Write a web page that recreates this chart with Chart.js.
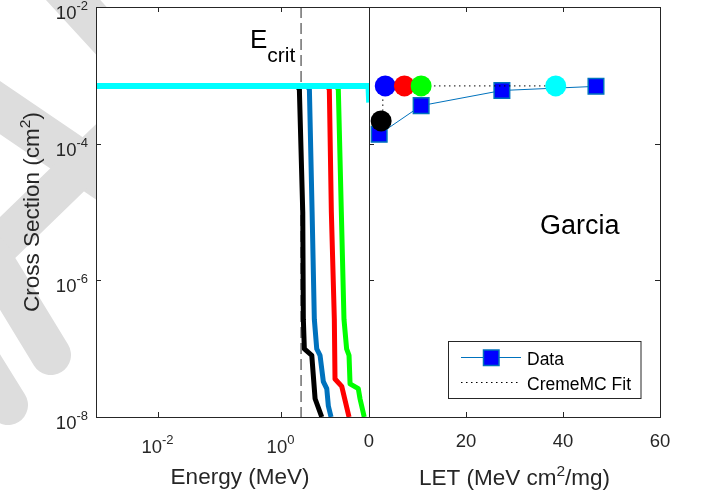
<!DOCTYPE html>
<html>
<head>
<meta charset="utf-8">
<script src="https://cdn.jsdelivr.net/npm/chart.js@4"></script>
<style>
  html, body { margin: 0; padding: 0; background: #fff; }
  #wrap { position: relative; width: 701px; height: 496px; }
  #wrap canvas { position: absolute; left: 0; top: 0; }
</style>
</head>
<body>
<div id="wrap">
  <canvas id="energyPanel" width="701" height="496"></canvas>
  <canvas id="letPanel" width="701" height="496"></canvas>
</div>
<script>
// ---- tick labels ----
const sigmaTickExps = [-8, -6, -4, -2];
const energyTickExps = [-2, 0];
const letTicks = [0, 20, 40, 60];

// ---- left panel: cross section vs. ion energy (MeV) ----
const eCrit = 2.13;
const energyBlack = [0.001, 1.85, 2.0, 2.27, 2.32, 2.41, 3.18, 3.6, 4.62];
const sigmaBlack  = [7e-4, 7e-4, 6.2e-4, 1e-5, 2.7e-7, 9.9e-8, 8e-8, 1.85e-8, 1e-8];
const energyBlue  = [0.001, 2.7, 2.91, 3.22, 3.5, 3.83, 4.33, 4.9, 5.57, 5.91, 6.54];
const sigmaBlue   = [7e-4, 7e-4, 6.2e-4, 1e-5, 2.7e-7, 9.9e-8, 8e-8, 3.3e-8, 2.6e-8, 1.45e-8, 1e-8];
const energyRed   = [0.001, 5.7, 6.13, 6.61, 7.39, 7.58, 9.75, 12.8];
const sigmaRed    = [7e-4, 7e-4, 6.2e-4, 1e-5, 2.7e-7, 3.6e-8, 2.8e-8, 1e-8];
const energyGreen = [0.001, 8.0, 8.58, 9.6, 10.6, 11.7, 12.8, 13.3, 18.1, 19.3, 22.6];
const sigmaGreen  = [7e-4, 7e-4, 6.2e-4, 1e-5, 2.7e-7, 9.9e-8, 8e-8, 3.06e-8, 2.6e-8, 1.85e-8, 1e-8];
const energyCyan  = [0.001, 26.5, 27.2];
const sigmaCyan   = [7e-4, 7e-4, 4e-4];

// ---- right panel: cross section vs. LET ----
const letData   = [2.1, 10.75, 27.4, 46.8];
const sigmaData = [1.37e-4, 3.6e-4, 6.0e-4, 6.9e-4];
const letFit    = [2.85, 2.85, 3.35, 38.5];
const sigmaFit  = [2.15e-4, 6.6e-4, 7e-4, 7e-4];
const letIons   = [2.5, 3.35, 7.3, 10.75, 38.5];
const sigmaIons = [2.15e-4, 7e-4, 7e-4, 7e-4, 7e-4];
const ionColors = ['#000000', '#0000ff', '#ff0000', '#00ff00', '#00ffff'];

const FONT = '"Liberation Sans", Arial, Helvetica, sans-serif';
const AXIS = '#262626';

const pts = (xs, ys) => xs.map((x, i) => ({ x: x, y: ys[i] }));

function drawRich(ctx, parts, x, y, align) {
  let total = 0;
  parts.forEach(p => {
    ctx.font = p.size + 'px ' + FONT;
    p.w = ctx.measureText(p.t).width;
    total += p.w;
  });
  let cx = align === 'center' ? x - total / 2 : (align === 'right' ? x - total : x);
  ctx.textAlign = 'left';
  ctx.textBaseline = 'alphabetic';
  parts.forEach(p => {
    ctx.font = p.size + 'px ' + FONT;
    ctx.fillText(p.t, cx, y + (p.dy || 0));
    cx += p.w;
  });
}
const powParts = e => [{ t: '10', size: 18.5 }, { t: String(e), size: 13, dy: -9 }];

function band(ctx, x1, y1, x2, y2, w) {
  ctx.beginPath();
  ctx.moveTo(x1, y1);
  ctx.lineTo(x2, y2);
  ctx.lineWidth = w;
  ctx.lineCap = 'round';
  ctx.stroke();
}

function frame(ctx, a) {
  ctx.save();
  ctx.strokeStyle = AXIS;
  ctx.lineWidth = 1;
  ctx.strokeRect(a.left + 0.5, a.top + 0.5, a.right - a.left, a.bottom - a.top);
  ctx.restore();
}

const energyFrame = {
  id: 'energyFrame',
  beforeDraw(chart) {
    const ctx = chart.ctx, a = chart.chartArea;
    ctx.save();
    ctx.fillStyle = '#ffffff';
    ctx.fillRect(0, 0, chart.width, chart.height);
    // faint background emblem
    ctx.strokeStyle = '#dddddd';
    band(ctx, 18, -60, 165, 100, 40);
    band(ctx, -20, 94, 130, 196, 44);
    band(ctx, -30, 274, 130, 119, 40);
    band(ctx, -10, 255, 51, 355, 40);
    band(ctx, -30, 344, 8, 405, 40);
    ctx.fillStyle = '#ffffff';
    ctx.fillRect(a.left, a.top, a.right - a.left, a.bottom - a.top);
    ctx.restore();
  },
  afterDraw(chart) {
    const ctx = chart.ctx, a = chart.chartArea;
    const xs = chart.scales.x, ys = chart.scales.y;
    frame(ctx, a);
    ctx.save();
    ctx.strokeStyle = AXIS;
    ctx.fillStyle = AXIS;
    ctx.lineWidth = 1;
    sigmaTickExps.forEach(e => {
      const py = Math.round(ys.getPixelForValue(Math.pow(10, e))) + 0.5;
      ctx.beginPath(); ctx.moveTo(a.left, py); ctx.lineTo(a.left + 5, py); ctx.stroke();
      drawRich(ctx, powParts(e), 88, py + 11.5, 'right');
    });
    energyTickExps.forEach(e => {
      const px = Math.round(xs.getPixelForValue(Math.pow(10, e))) + 0.5;
      ctx.beginPath();
      ctx.moveTo(px, a.bottom); ctx.lineTo(px, a.bottom - 5);
      ctx.moveTo(px, a.top); ctx.lineTo(px, a.top + 5);
      ctx.stroke();
      drawRich(ctx, powParts(e), px - 1, 453, 'center');
    });
    drawRich(ctx, [{ t: 'Energy (MeV)', size: 22.5 }], 240, 484, 'center');
    ctx.save();
    ctx.translate(39, (a.top + a.bottom) / 2);
    ctx.rotate(-Math.PI / 2);
    drawRich(ctx, [{ t: 'Cross Section (cm', size: 22.5 }, { t: '2', size: 15.5, dy: -9 }, { t: ')', size: 22.5 }], 0, 0, 'center');
    ctx.restore();
    ctx.fillStyle = '#000000';
    drawRich(ctx, [{ t: 'E', size: 26 }, { t: 'crit', size: 21, dy: 14 }], 250, 48, 'left');
    ctx.restore();
  }
};

const letFrame = {
  id: 'letFrame',
  beforeDraw(chart) {
    const ctx = chart.ctx, a = chart.chartArea;
    ctx.save();
    ctx.fillStyle = '#ffffff';
    ctx.fillRect(a.left, a.top, a.right - a.left, a.bottom - a.top);
    ctx.restore();
  },
  afterDraw(chart) {
    const ctx = chart.ctx, a = chart.chartArea;
    const xs = chart.scales.x, ys = chart.scales.y;
    frame(ctx, a);
    ctx.save();
    ctx.strokeStyle = AXIS;
    ctx.fillStyle = AXIS;
    ctx.lineWidth = 1;
    sigmaTickExps.forEach(e => {
      const py = Math.round(ys.getPixelForValue(Math.pow(10, e))) + 0.5;
      ctx.beginPath();
      ctx.moveTo(a.left, py); ctx.lineTo(a.left + 5, py);
      ctx.moveTo(a.right, py); ctx.lineTo(a.right - 5, py);
      ctx.stroke();
    });
    letTicks.forEach(v => {
      const px = Math.round(xs.getPixelForValue(v)) + 0.5;
      ctx.beginPath();
      ctx.moveTo(px, a.bottom); ctx.lineTo(px, a.bottom - 5);
      ctx.moveTo(px, a.top); ctx.lineTo(px, a.top + 5);
      ctx.stroke();
      drawRich(ctx, [{ t: String(v), size: 18.5 }], px - 0.5, 447, 'center');
    });
    drawRich(ctx, [{ t: 'LET (MeV cm', size: 22.5 }, { t: '2', size: 15.5, dy: -9 }, { t: '/mg)', size: 22.5 }], 514.5, 485, 'center');
    ctx.fillStyle = '#000000';
    drawRich(ctx, [{ t: 'Garcia', size: 27 }], 540, 234, 'left');

    // legend
    ctx.fillStyle = '#ffffff';
    ctx.fillRect(448.5, 341.5, 192.5, 57);
    ctx.strokeStyle = AXIS;
    ctx.strokeRect(448.5, 341.5, 192.5, 57);
    ctx.strokeStyle = '#0072bd';
    ctx.beginPath(); ctx.moveTo(461, 357.5); ctx.lineTo(521, 357.5); ctx.stroke();
    ctx.fillStyle = '#0000ff';
    ctx.lineWidth = 1.5;
    ctx.fillRect(483.5, 350, 15.5, 15.5);
    ctx.strokeRect(483.5, 350, 15.5, 15.5);
    ctx.lineWidth = 1;
    ctx.strokeStyle = '#000000';
    ctx.setLineDash([1.5, 3.5]);
    ctx.beginPath(); ctx.moveTo(461, 382.5); ctx.lineTo(521, 382.5); ctx.stroke();
    ctx.setLineDash([]);
    ctx.fillStyle = '#000000';
    drawRich(ctx, [{ t: 'Data', size: 17.5 }], 527, 365, 'left');
    drawRich(ctx, [{ t: 'CremeMC Fit', size: 17.5 }], 527, 389.5, 'left');
    ctx.restore();
  }
};

const common = {
  responsive: false,
  devicePixelRatio: 1,
  animation: false,
  events: [],
  plugins: { legend: { display: false }, tooltip: { enabled: false } }
};

function curve(xs, ys, color, width, order) {
  return {
    data: pts(xs, ys), showLine: true, borderColor: color, borderWidth: width,
    pointRadius: 0, tension: 0, borderJoinStyle: 'round', clip: 0, order: order
  };
}

new Chart(document.getElementById('energyPanel'), {
  type: 'scatter',
  data: {
    datasets: [
      curve(energyCyan, sigmaCyan, '#00ffff', 6, 0),
      curve(energyGreen, sigmaGreen, '#00ff00', 5, 1),
      curve(energyRed, sigmaRed, '#ff0000', 5, 2),
      curve(energyBlue, sigmaBlue, '#0072bd', 5, 3),
      curve(energyBlack, sigmaBlack, '#000000', 5, 4),
      Object.assign(curve([eCrit, eCrit], [1e-2, 1e-8], '#262626', 1, 5), { borderDash: [11, 5] })
    ]
  },
  options: Object.assign({}, common, {
    layout: { autoPadding: false, padding: { left: 96, top: 7, right: 332, bottom: 79 } },
    scales: {
      x: { type: 'logarithmic', min: 0.001, max: 27, display: false },
      y: { type: 'logarithmic', min: 1e-8, max: 1e-2, display: false }
    }
  }),
  plugins: [energyFrame]
});

const ionSets = letIons.map((l, i) => ({
  data: [{ x: l, y: sigmaIons[i] }], showLine: false,
  pointStyle: 'circle', pointRadius: 10.5, pointBackgroundColor: ionColors[i],
  pointBorderWidth: 0, order: 5 - i
}));

new Chart(document.getElementById('letPanel'), {
  type: 'scatter',
  data: {
    datasets: [
      {
        data: pts(letData, sigmaData), showLine: true, borderColor: '#0072bd', borderWidth: 1,
        pointStyle: 'rect', pointRadius: 11, pointBackgroundColor: '#0000ff',
        pointBorderColor: '#0072bd', pointBorderWidth: 1.5, tension: 0, order: 10
      },
      {
        data: pts(letFit, sigmaFit), showLine: true, borderColor: '#000000', borderWidth: 1,
        borderDash: [1.5, 3.5], pointRadius: 0, tension: 0, order: 8
      }
    ].concat(ionSets)
  },
  options: Object.assign({}, common, {
    layout: { autoPadding: false, padding: { left: 369, top: 7, right: 41, bottom: 79 } },
    scales: {
      x: { type: 'linear', min: 0, max: 60, display: false },
      y: { type: 'logarithmic', min: 1e-8, max: 1e-2, display: false }
    }
  }),
  plugins: [letFrame]
});
</script>
</body>
</html>
